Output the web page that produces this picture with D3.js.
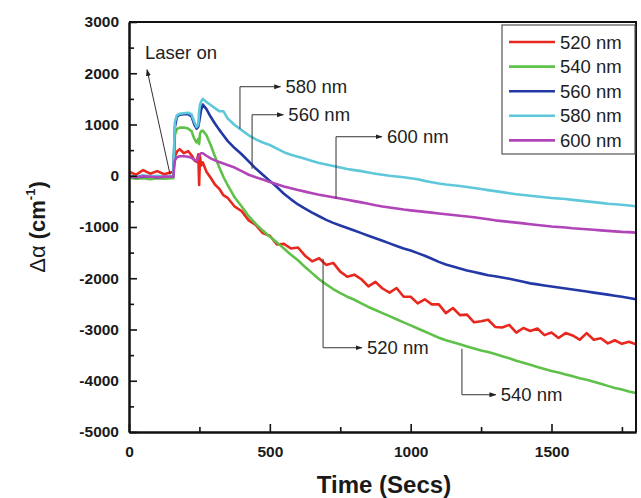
<!DOCTYPE html>
<html><head><meta charset="utf-8">
<script src="https://cdn.jsdelivr.net/npm/d3@7/dist/d3.min.js"></script>
<style>body{margin:0;background:#fff}svg{display:block;font-family:"Liberation Sans",Arial,Helvetica,sans-serif}</style>
</head><body><svg id="c" width="641" height="498"></svg>
<script>
// ---- data ----
const time = [0,25,50,75,100,125,150,157,163,170,180,195,210,222,232,240,246,249,252,256,262,275,290,305,320,335,350,375,400,425,450,475,
  500,525,550,575,600,625,650,675,700,725,750,775,800,825,850,875,900,925,950,975,1000,1025,1050,1075,1100,1125,1150,1175,1200,1225,1250,1275,
  1300,1325,1350,1375,1400,1425,1450,1475,1500,1525,1550,1575,1600,1625,1650,1675,1700,1725,1750,1775,1800];
const s520 = [80,20,110,40,90,30,70,60,380,470,520,440,480,400,300,270,420,-180,380,200,260,80,-40,-170,-250,-380,-430,-600,-690,-870,-960,-1120,
  -1170,-1340,-1330,-1420,-1400,-1560,-1670,-1610,-1740,-1700,-1870,-1970,-1930,-2020,-2160,-2070,-2200,-2280,-2190,-2360,-2360,-2490,-2410,-2510,
  -2510,-2680,-2580,-2720,-2710,-2860,-2840,-2810,-2950,-2960,-2910,-3060,-2970,-3030,-2980,-3110,-3060,-3165,-3070,-3115,-3200,-3070,-3200,-3170,
  -3270,-3210,-3280,-3240,-3290];
const s540 = [-40,-60,-50,-70,-50,-60,-50,-50,800,910,940,940,920,870,720,650,720,620,820,870,880,790,600,380,170,-20,-180,-420,-600,-790,-940,-1070,
  -1190,-1300,-1420,-1540,-1650,-1780,-1900,-2020,-2120,-2210,-2290,-2360,-2420,-2490,-2560,-2620,-2680,-2740,-2800,-2860,-2920,-2980,-3040,-3100,
  -3160,-3210,-3250,-3290,-3330,-3370,-3410,-3440,-3480,-3520,-3560,-3610,-3650,-3690,-3730,-3770,-3810,-3840,-3880,-3910,-3950,-3980,-4020,-4060,
  -4100,-4140,-4170,-4210,-4240];
const s560 = [-10,-30,-20,-10,-30,-20,-20,-20,950,1150,1190,1200,1200,1160,1000,920,960,1050,1150,1280,1390,1300,1150,1020,900,790,680,540,420,280,140,20,
  -100,-220,-350,-460,-560,-640,-720,-790,-860,-920,-970,-1020,-1070,-1120,-1170,-1220,-1270,-1320,-1370,-1420,-1460,-1510,-1560,-1620,
  -1680,-1730,-1770,-1810,-1850,-1880,-1910,-1940,-1960,-1985,-2010,-2040,-2070,-2100,-2120,-2140,-2160,-2180,-2200,-2220,-2240,-2260,-2280,-2300,
  -2320,-2340,-2360,-2385,-2410];
const s580 = [0,-20,10,-10,0,-20,-10,-10,1050,1180,1210,1220,1230,1200,1050,950,1000,1250,1380,1450,1500,1440,1380,1320,1260,1260,1120,990,890,790,710,650,
  600,530,460,410,370,330,290,250,220,190,160,130,110,90,65,40,20,0,-15,-30,-50,-70,-100,-125,
  -150,-170,-185,-200,-220,-240,-260,-280,-300,-320,-340,-360,-375,-390,-405,-420,-435,-445,-455,-470,-485,-500,-515,-530,
  -545,-555,-565,-580,-595];
const s600 = [-20,-30,-10,-20,-30,-20,-20,-20,300,360,380,380,370,350,310,290,340,400,420,440,440,390,340,300,270,240,210,160,90,20,-30,-75,
  -120,-165,-210,-245,-280,-310,-340,-370,-395,-420,-445,-470,-495,-520,-545,-575,-600,-620,-640,-660,-675,-690,-705,-720,
  -735,-750,-765,-780,-795,-810,-830,-850,-870,-885,-900,-915,-930,-945,-960,-975,-990,-1000,-1010,-1025,-1035,-1045,-1055,-1065,
  -1075,-1085,-1095,-1100,-1110];
const seriesNames = ["520 nm","540 nm","560 nm","580 nm","600 nm"];
const seriesValues = [s520, s540, s560, s580, s600];
const seriesColors = ["#e8281e","#5fc04a","#2238a6","#5ec8da","#b044b8"];
const xTicks = [0,500,1000,1500];
const xMinor = [250,750,1250,1750];
const yTicks = [3000,2000,1000,0,-1000,-2000,-3000,-4000,-5000];
const yMinor = [2500,1500,500,-500,-1500,-2500,-3500,-4500];

// ---- layout ----
const L=129, R=636, T=22, B=432;
const svg = d3.select("#c");
const x = d3.scaleLinear().domain([0,1800]).range([L,R]);
const y = d3.scaleLinear().domain([-5000,3000]).range([B,T]);
const fmt = d => String(d);

svg.append("defs").append("clipPath").attr("id","clip")
  .append("rect").attr("x",L).attr("y",T).attr("width",R-L).attr("height",B-T);
const mk = svg.select("defs").append("marker").attr("id","arr")
  .attr("viewBox","0 0 10 10").attr("refX",9).attr("refY",5)
  .attr("markerWidth",7).attr("markerHeight",7).attr("markerUnits","userSpaceOnUse").attr("orient","auto");
mk.append("path").attr("d","M0,1.5L10,5L0,8.5Z").attr("fill","#222");

// series
const line = d3.line().x((d,i)=>x(time[i])).y(d=>y(d));
const g = svg.append("g").attr("clip-path","url(#clip)");
seriesValues.forEach((vals,k)=>{
  g.append("path").attr("d",line(vals)).attr("fill","none")
   .attr("stroke",seriesColors[k]).attr("stroke-width",2.6).attr("stroke-linejoin","round");
});

// axes
const font = "Liberation Sans, Arial, sans-serif";
const ax = svg.append("g").attr("transform",`translate(0,${B})`)
  .call(d3.axisBottom(x).tickValues(xTicks).tickFormat(fmt).tickSizeInner(-8).tickSizeOuter(0).tickPadding(10));
const axm = svg.append("g").attr("transform",`translate(0,${B})`)
  .call(d3.axisBottom(x).tickValues(xMinor).tickSizeInner(-5).tickSizeOuter(0).tickFormat(""));
const ay = svg.append("g").attr("transform",`translate(${L},0)`)
  .call(d3.axisLeft(y).tickValues(yTicks).tickFormat(fmt).tickSizeInner(-8).tickSizeOuter(0).tickPadding(10));
const aym = svg.append("g").attr("transform",`translate(${L},0)`)
  .call(d3.axisLeft(y).tickValues(yMinor).tickSizeInner(-5).tickSizeOuter(0).tickFormat(""));
[ax,axm,ay,aym].forEach(a=>{
  a.selectAll("path.domain").attr("stroke","#111").attr("stroke-width",2);
  a.selectAll(".tick line").attr("stroke","#111").attr("stroke-width",1.6);
  a.selectAll("text").attr("font-family",font).attr("font-size",15.5).attr("font-weight","bold").attr("fill","#1a1a1a");
});
ax.selectAll("text").attr("dy","0.95em");
// frame (top & right)
svg.append("path").attr("d",`M${L},${T}H${R}V${B}`).attr("fill","none").attr("stroke","#111").attr("stroke-width",2);

// axis titles
svg.append("text").attr("x",384).attr("y",493).attr("text-anchor","middle")
  .attr("font-family",font).attr("font-size",24).attr("font-weight","bold").attr("fill","#1a1a1a").text("Time (Secs)");
const yt = svg.append("text").attr("transform","translate(45,227) rotate(-90)").attr("text-anchor","middle")
  .attr("font-family",font).attr("font-size",22).attr("fill","#1a1a1a");
yt.append("tspan").text("Δα ");
yt.append("tspan").attr("font-weight","bold").text("(cm");
yt.append("tspan").attr("font-weight","bold").attr("font-size",13).attr("dy",-10).text("-1");
yt.append("tspan").attr("font-weight","bold").attr("dy",10).text(")");

// legend
const lg = svg.append("g");
lg.append("rect").attr("x",502).attr("y",25).attr("width",133).attr("height",129)
  .attr("fill","#fff").attr("stroke","#555").attr("stroke-width",1.2);
seriesNames.forEach((n,i)=>{
  const yy = 42 + i*24.6;
  lg.append("line").attr("x1",509).attr("x2",555).attr("y1",yy).attr("y2",yy)
    .attr("stroke",seriesColors[i]).attr("stroke-width",2.6);
  lg.append("text").attr("x",560).attr("y",yy).attr("dy","0.36em")
    .attr("font-family",font).attr("font-size",18.5).attr("fill","#222").text(n);
});

// annotations (placed in data coordinates)
const ann = svg.append("g").attr("stroke","#333").attr("stroke-width",1).attr("fill","none");
function bracket(t0,v0,v1,t1,label){
  ann.append("path").attr("d",`M${x(t0)},${y(v0)}V${y(v1)}H${x(t1)}`).attr("marker-end","url(#arr)");
  svg.append("text").attr("x",x(t1)+5).attr("y",y(v1)).attr("dy","0.36em")
    .attr("font-family",font).attr("font-size",18.5).attr("fill","#222").text(label);
}
bracket(394, 917, 1737, 538, "580 nm");
bracket(437, 137, 1190, 548, "560 nm");
bracket(735, -449, 761, 898, "600 nm");
bracket(689, -1620, -3356, 827, "520 nm");
bracket(1182, -3376, -4273, 1302, "540 nm");
ann.append("line").attr("x1",x(146)).attr("y1",y(20)).attr("x2",x(64)).attr("y2",y(2070)).attr("marker-end","url(#arr)");
svg.append("text").attr("x",145).attr("y",59).attr("font-family",font).attr("font-size",18.5).attr("fill","#222").text("Laser on");
</script></body></html>
